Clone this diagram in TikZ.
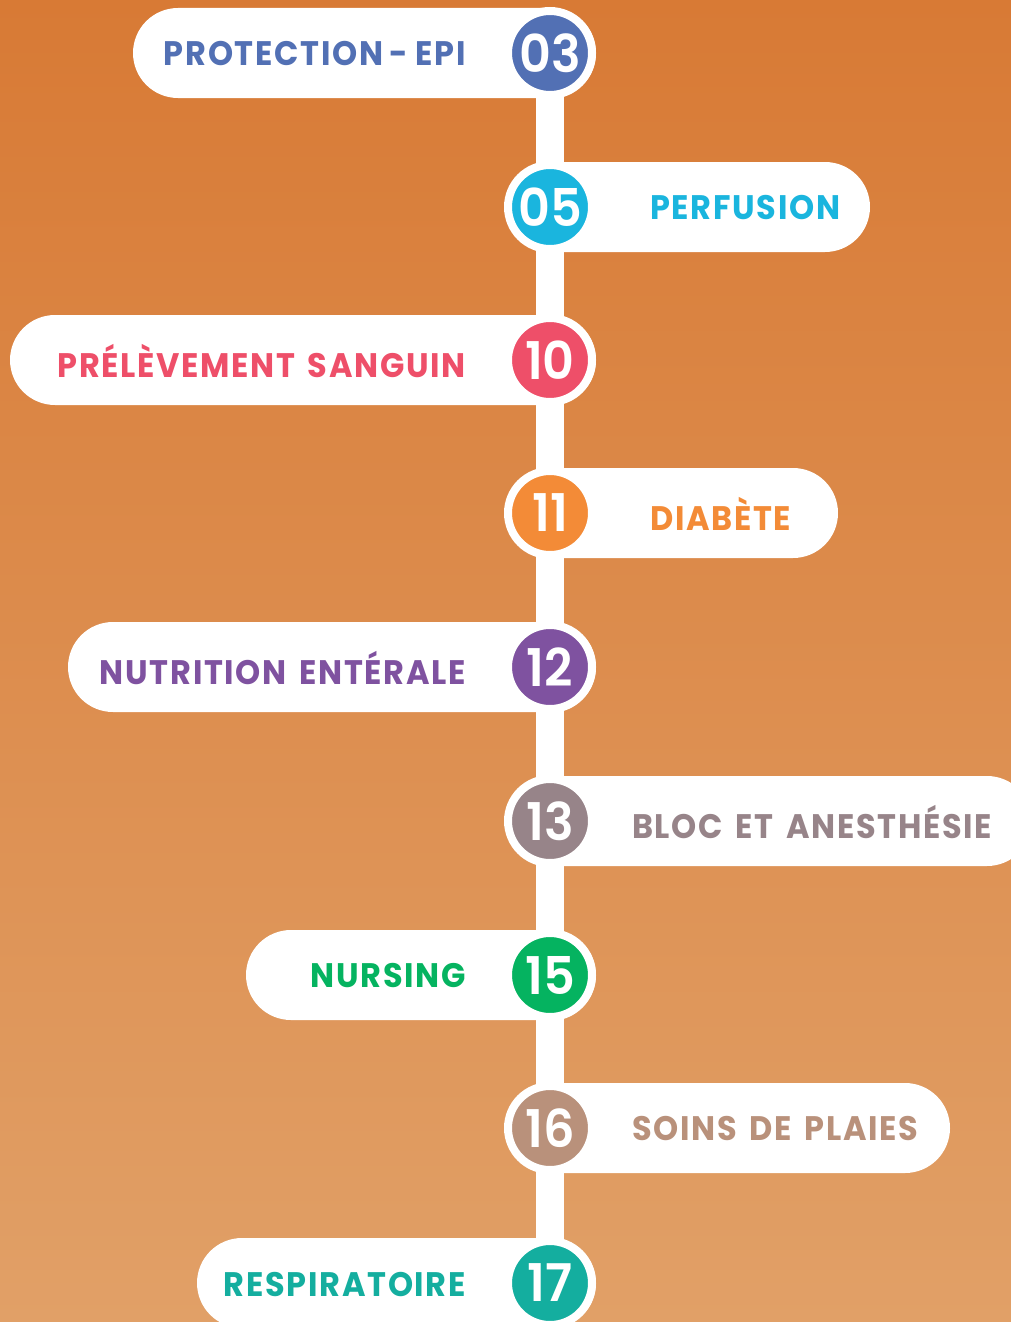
\documentclass[tikz,border=0pt]{standalone}
\usepackage{fontspec}
\setmainfont{Poppins}
\newfontfamily\labelfont{Poppins}[LetterSpace=5,FakeStretch=0.94,WordSpace=1.5]
\newfontfamily\numfont{Poppins}[UprightFont={* SemiBold},FakeStretch=0.95]
\usetikzlibrary{backgrounds}
\definecolor{bgtop}{HTML}{D87A35}
\definecolor{bgbot}{HTML}{E1A067}
\definecolor{c03}{HTML}{5270B4}
\definecolor{c05}{HTML}{1AB5DE}
\definecolor{c10}{HTML}{EE4F69}
\definecolor{c11}{HTML}{F38B37}
\definecolor{c12}{HTML}{7F52A0}
\definecolor{c13}{HTML}{978489}
\definecolor{c15}{HTML}{05B360}
\definecolor{c16}{HTML}{B9917B}
\definecolor{c17}{HTML}{14AE9F}
\tikzset{
  numcirc/.style={circle, fill=#1, draw=white, line width=8pt, minimum size=84pt, inner sep=0pt,
    text=white, font=\numfont\fontsize{52}{52}\selectfont},
  lbl/.style={text=#1, inner sep=0pt, font=\labelfont\bfseries\fontsize{34}{34}\selectfont},
  pill/.style={fill=white, rounded corners=45pt},
  bar/.style={draw=white, line width=28pt},
}
\begin{document}
\begin{tikzpicture}[x=1pt,y=-1pt]
\useasboundingbox (0,0) rectangle (1011,1322);
% circles
\node[numcirc=c03] (n03) at (550,53) {03};
\node[numcirc=c05] (n05) at (550,207) {05};
\node[numcirc=c10] (n10) at (550,360) {10};
\node[numcirc=c11] (n11) at (550,513) {11};
\node[numcirc=c12] (n12) at (550,667) {12};
\node[numcirc=c13] (n13) at (550,821) {13};
\node[numcirc=c15] (n15) at (550,975) {15};
\node[numcirc=c16] (n16) at (550,1128) {16};
\node[numcirc=c17] (n17) at (550,1283) {17};
\coordinate (barend) at (550,1340);
% labels
\node[lbl=c03, anchor=east] (t03) at (466,54) {PROTECTION\kern6pt-\kern8pt EPI};
\node[lbl=c05, anchor=west] (t05) at (650,208) {PERFUSION};
\node[lbl=c10, anchor=east] (t10) at (466,361) {PRÉLÈVEMENT SANGUIN};
\node[lbl=c11, anchor=west] (t11) at (650,514) {DIABÈTE};
\node[lbl=c12, anchor=east] (t12) at (466,668) {NUTRITION ENTÉRALE};
\node[lbl=c13, anchor=west] (t13) at (632,822) {BLOC ET ANESTHÉSIE};
\node[lbl=c15, anchor=east] (t15) at (466,976) {NURSING};
\node[lbl=c16, anchor=west] (t16) at (632,1129) {SOINS DE PLAIES};
\node[lbl=c17, anchor=east] (t17) at (466,1284) {RESPIRATOIRE};
\begin{scope}[on background layer]
  \clip (0,0) rectangle (1011,1322);
  \shade[top color=bgtop, bottom color=bgbot] (0,0) rectangle (1011,1322);
  \draw[bar] (n03.center) -- (n05.center) -- (n10.center) -- (n11.center) -- (n12.center)
    -- (n13.center) -- (n15.center) -- (n16.center) -- (n17.center) -- (barend);
  \fill[pill] (133,8) rectangle (596,98);
  \fill[pill] (505,162) rectangle (870,252);
  \fill[pill] (10,315) rectangle (596,405);
  \fill[pill] (505,468) rectangle (838,558);
  \fill[pill] (68,622) rectangle (596,712);
  \fill[pill] (505,776) rectangle (1032,866);
  \fill[pill] (246,930) rectangle (596,1020);
  \fill[pill] (505,1083) rectangle (950,1173);
  \fill[pill] (197,1238) rectangle (596,1328);
\end{scope}
\end{tikzpicture}
\end{document}
